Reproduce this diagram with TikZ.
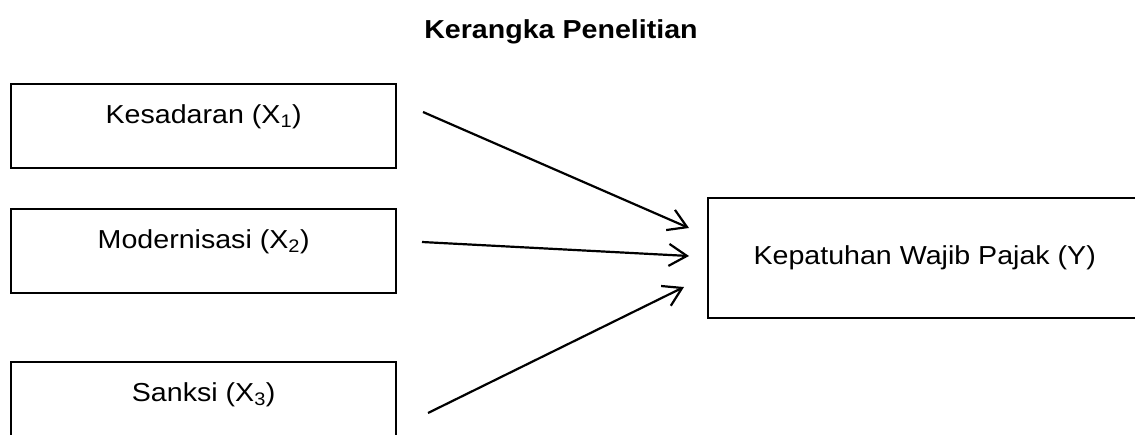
\documentclass[tikz,border=0pt]{standalone}
\usepackage{fontspec}
\setmainfont{Liberation Sans}
\usepackage{graphicx}
\usetikzlibrary{arrows.meta}
\newcommand{\lbl}[1]{\scalebox{1.1}[1]{\fontsize{26}{31}\selectfont #1}}
\begin{document}
\begin{tikzpicture}[x=1pt,y=-1pt,
  varbox/.style={draw, line width=2.4pt, rectangle, inner sep=0pt, anchor=north west},
  topbox/.style={varbox, minimum width=385pt, minimum height=84pt, text height=18pt, text depth=24pt},
  ybox/.style={varbox, minimum width=433pt, minimum height=120pt},
  arr/.style={line width=2.2pt, -{Straight Barb[length=18pt, width=22pt, line width=2.2pt]}}]
\clip (0,0) rectangle (1135,434);
\fill[white] (0,0) rectangle (1135,434);
\node[anchor=base] (title) at (561,38) {\lbl{\bfseries Kerangka Penelitian}};
\node[topbox] (x1) at (10,83) {\lbl{Kesadaran (X\textsubscript{1})}};
\node[topbox] (x2) at (10,208) {\lbl{Modernisasi (X\textsubscript{2})}};
\node[topbox] (x3) at (10,361) {\lbl{Sanksi (X\textsubscript{3})}};
\node[ybox] (y) at (707,197) {\lbl{Kepatuhan Wajib Pajak (Y)}};
\coordinate (s1) at (423,112);
\coordinate (s2) at (422,242);
\coordinate (s3) at (428,413);
\coordinate (e1) at (689,228);
\coordinate (e2) at (689,256);
\coordinate (e3) at (684,287);
\draw[arr] (s1) -- (e1);
\draw[arr] (s2) -- (e2);
\draw[arr] (s3) -- (e3);
\end{tikzpicture}
\end{document}
